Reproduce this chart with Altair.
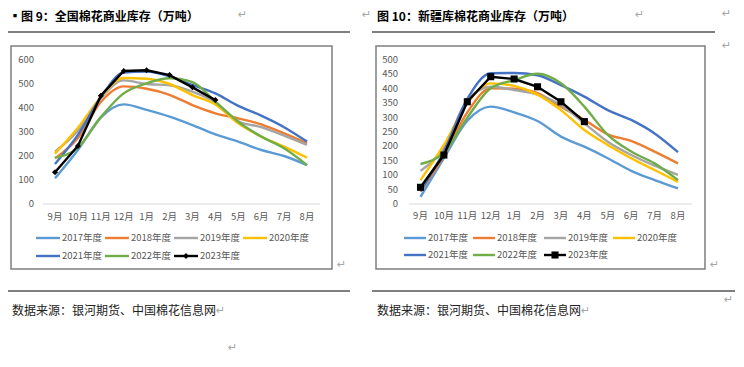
import altair as alt
import pandas as pd

OFF = 8
W, H = 728, 351
CJK = "Noto Sans CJK SC"

months = ["9月", "10月", "11月", "12月", "1月", "2月", "3月", "4月", "5月", "6月", "7月", "8月"]
years = ["2017年度", "2018年度", "2019年度", "2020年度", "2021年度", "2022年度", "2023年度"]
colors = ["#5B9BD5", "#ED7D31", "#A5A5A5", "#FFC000", "#4472C4", "#70AD47", "#000000"]

# 全国棉花商业库存（万吨）
nat_2017 = [107, 225, 360, 415, 392, 364, 329, 290, 260, 225, 200, 162]
nat_2018 = [190, 275, 425, 490, 480, 455, 412, 378, 357, 332, 294, 253]
nat_2019 = [218, 305, 440, 515, 500, 495, 468, 424, 345, 320, 285, 246]
nat_2020 = [210, 318, 445, 525, 522, 500, 454, 415, 336, 281, 239, 193]
nat_2021 = [167, 288, 445, 548, 552, 532, 496, 461, 409, 368, 320, 260]
nat_2022 = [193, 235, 362, 461, 503, 524, 508, 426, 343, 281, 232, 162]
nat_2023 = [132, 242, 451, 554, 557, 537, 486, 433]

# 新疆库棉花商业库存（万吨）
xj_2017 = [25, 159, 289, 338, 318, 288, 234, 199, 159, 115, 83, 54]
xj_2018 = [43, 168, 318, 402, 400, 385, 338, 292, 242, 219, 182, 141]
xj_2019 = [115, 195, 360, 407, 396, 380, 344, 280, 216, 170, 133, 101]
xj_2020 = [83, 205, 350, 419, 410, 380, 326, 257, 205, 159, 118, 77]
xj_2021 = [45, 183, 365, 454, 455, 447, 413, 373, 326, 292, 245, 180]
xj_2022 = [139, 178, 300, 402, 430, 452, 419, 338, 240, 182, 141, 83]
xj_2023 = [58, 170, 355, 442, 434, 407, 355, 286]

yticks_nat = [0, 100, 200, 300, 400, 500, 600]
yticks_xj = [0, 50, 100, 150, 200, 250, 300, 350, 400, 450, 500]

national = [nat_2017, nat_2018, nat_2019, nat_2020, nat_2021, nat_2022, nat_2023]
xinjiang = [xj_2017, xj_2018, xj_2019, xj_2020, xj_2021, xj_2022, xj_2023]

one = pd.DataFrame({"a": [0]})
AXIS_COLOR = "#595959"
ARROW = "#a6a6a6"


def txt(s, x, y, size=12, weight="normal", color="#000000", align="left", font=CJK):
    return alt.Chart(one).mark_text(
        text=s, align=align, baseline="middle", fontSize=size,
        fontWeight=weight, color=color, font=font
    ).encode(x=alt.value(x - OFF), y=alt.value(y - OFF))


def rule(x1, x2, y1, y2, color, w):
    return alt.Chart(one).mark_rule(color=color, strokeWidth=w).encode(
        x=alt.value(x1 - OFF), x2=alt.value(x2 - OFF),
        y=alt.value(y1 - OFF), y2=alt.value(y2 - OFF))


def box(x1, x2, y1, y2):
    return alt.Chart(one).mark_rect(fill="white", stroke="#7f7f7f", strokeWidth=1.5).encode(
        x=alt.value(x1 - OFF), x2=alt.value(x2 - OFF),
        y=alt.value(y1 - OFF), y2=alt.value(y2 - OFF))


def panel(series, x9, x8, ymax, yticks, ytick_x, base_x1, base_x2, xlab_y,
          leg_x, sym_w, leg_rows, shape, msize):
    xs = alt.Scale(type="point", domain=months, range=[x9 - OFF, x8 - OFF], padding=0)
    ys = alt.Scale(type="linear", domain=[0, ymax], range=[204 - OFF, 60 - OFF],
                   nice=False, zero=False)
    layers = []
    # baseline
    layers.append(alt.Chart(one).mark_rule(color="#d9d9d9", strokeWidth=1).encode(
        x=alt.value(base_x1 - OFF), x2=alt.value(base_x2 - OFF),
        y=alt.Y(datum=0, scale=ys, axis=None)))
    # y tick labels
    layers.append(alt.Chart(pd.DataFrame({"v": yticks})).mark_text(
        align="right", baseline="middle", fontSize=9.5, color=AXIS_COLOR, font=CJK
    ).encode(y=alt.Y("v:Q", scale=ys, axis=None), x=alt.value(ytick_x - OFF), text="v:Q"))
    # x tick labels
    layers.append(alt.Chart(pd.DataFrame({"m": months})).mark_text(
        align="center", baseline="middle", fontSize=9.5, color=AXIS_COLOR, font=CJK
    ).encode(x=alt.X("m:N", scale=xs, axis=None), y=alt.value(xlab_y - OFF), text="m:N"))
    # series
    for i, (yr, col, vals) in enumerate(zip(years, colors, series)):
        df = pd.DataFrame({"month": months[:len(vals)], "value": vals,
                           "idx": list(range(len(vals)))})
        enc = dict(x=alt.X("month:N", scale=xs, axis=None),
                   y=alt.Y("value:Q", scale=ys, axis=None),
                   order=alt.Order("idx:Q"))
        if i == 6:
            layers.append(alt.Chart(df).mark_line(color=col, strokeWidth=2.4).encode(**enc))
            layers.append(alt.Chart(df).mark_point(
                shape=shape, size=msize, filled=True, color=col, opacity=1
            ).encode(x=enc["x"], y=enc["y"]))
        else:
            layers.append(alt.Chart(df).mark_line(
                color=col, strokeWidth=2.4, interpolate="monotone").encode(**enc))
    # legend
    for i, (yr, col) in enumerate(zip(years, colors)):
        row = i // 4
        c = i % 4
        x0 = leg_x[c]
        y0 = leg_rows[row]
        layers.append(rule(x0, x0 + sym_w, y0, y0, col, 2.4))
        if i == 6:
            layers.append(alt.Chart(one).mark_point(
                shape=shape, size=msize, filled=True, color=col, opacity=1
            ).encode(x=alt.value(x0 + sym_w / 2 - OFF), y=alt.value(y0 - OFF)))
        layers.append(txt(yr, x0 + sym_w + 2, y0, size=9.5, color=AXIS_COLOR))
    return layers


layers = []
# frames
layers.append(box(11, 332, 46, 269))
layers.append(box(376, 705, 46, 269))
# document rules
layers.append(rule(8, 350, 32, 32, "#000000", 1.2))
layers.append(rule(372, 715, 32, 32, "#000000", 1.2))
layers.append(rule(8, 350, 291, 291, "#000000", 1.2))
layers.append(rule(372, 735, 291, 291, "#000000", 1.2))
# titles
layers.append(txt("▪图 9：全国棉花商业库存（万吨）", 9, 17, size=12, weight="bold"))
layers.append(txt("图 10：新疆库棉花商业库存（万吨）", 377, 17, size=12, weight="bold"))
# source notes
src = "数据来源：银河期货、中国棉花信息网"
layers.append(txt(src, 12, 311, size=12, color="#222222"))
layers.append(txt(src, 377, 311, size=12, color="#222222"))
# paragraph marks
for (ax, ay) in [(238, 15), (362, 15), (635, 15), (722, 14), (722, 46),
                 (337, 265), (710, 265), (216, 311), (581, 311), (724, 300), (228, 348)]:
    layers.append(txt("↵", ax, ay, size=11, color=ARROW, font="DejaVu Sans"))

layers += panel(national, 55, 307, 600, yticks_nat, 34, 43, 320, 217,
                [36, 105, 174, 243], 24, [238, 256], "diamond", 36)
layers += panel(xinjiang, 420.5, 678, 500, yticks_xj, 398, 409, 692, 216,
                [404, 473, 544, 613], 22, [238, 255], "square", 50)

chart = alt.layer(*layers).resolve_scale(x="independent", y="independent").properties(
    width=W, height=H, autosize=alt.AutoSizeParams(type="none"), padding=0
).configure_view(stroke="transparent")

chart.save("out.html", embed_options={"renderer": "svg", "actions": False})
